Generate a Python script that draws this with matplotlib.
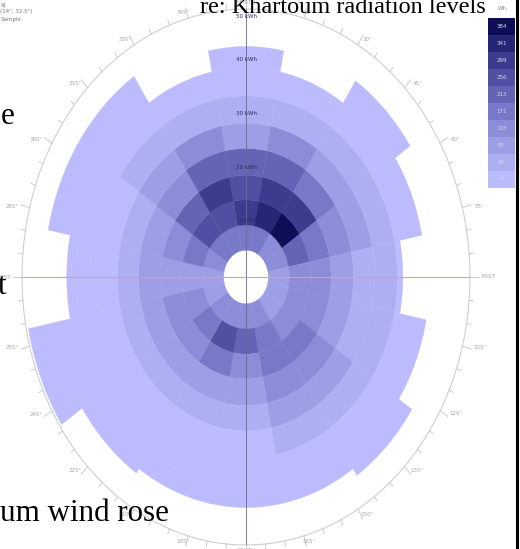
import numpy as np
import matplotlib
matplotlib.use("Agg")
import matplotlib.pyplot as plt

# sector centres, degrees clockwise from north
directions = np.arange(0, 360, 22.5)
# how far each sector reaches (kWh)
outer_reach = [43, 39, 44, 40, 35, 41, 44.5, 43, 43, 43, 44, 49.5, 40, 45, 45, 39]
# radial band edges (kWh), the last band runs out to outer_reach
band_edges = [5, 9.7, 14.4, 19, 24, 28.7, 33.8, 39]
# colour level of each cell, inner band first
cell_level = [
    [4, 7, 6, 5, 2, 1, 0, 0],   # N
    [4, 8, 7, 5, 3, 1, 0, 0],
    [3, 9, 7, 4, 2, 1, 0, 0],
    [3, 5, 4, 3, 2, 1, 0, 0],
    [2, 3, 3, 2, 1, 1, 0, 0],   # E
    [2, 3, 3, 2, 1, 1, 0, 0],
    [2, 3, 4, 3, 2, 1, 0, 0],
    [3, 4, 4, 3, 2, 1, 0, 0],
    [3, 5, 3, 2, 1, 0, 0, 0],   # S
    [3, 6, 4, 2, 1, 0, 0, 0],
    [3, 4, 3, 2, 1, 0, 0, 0],
    [2, 3, 3, 2, 1, 0, 0, 0],
    [2, 2, 2, 2, 1, 0, 0, 0],   # W
    [3, 4, 3, 2, 1, 0, 0, 0],
    [4, 6, 5, 3, 2, 1, 0, 0],
    [4, 6, 7, 5, 3, 1, 0, 0],
]
level_colors = ['#bbbbfd', '#aeaef2', '#9e9ee6', '#8c8cd8', '#7878c8',
                '#6464b6', '#5050a2', '#3c3c8e', '#262676', '#0e0e58']
legend_labels = ['0', '43', '85', '128', '171', '213', '256', '299', '341', '384']
ring_labels = [10, 20, 30, 40, 50]
compass = {0: 'NORTH', 90: 'EAST', 180: 'SOUTH', 270: 'WEST'}

W, H = 520, 549
cx, cy, rx, ry = 246, 277, 224, 268   # centre and half axes of the scale ring, px

fig = plt.figure(figsize=(W / 100, H / 100), dpi=100)
ax = fig.add_axes([(cx - rx) / W, (H - cy - ry) / H, 2 * rx / W, 2 * ry / H],
                  projection='polar')
ax.set_aspect('auto')   # stretched into an ellipse like the original
ax.set_theta_zero_location('N')
ax.set_theta_direction(-1)

width = np.deg2rad(22.5)
for i, d in enumerate(directions):
    for b, lev in enumerate(cell_level[i]):
        lo = band_edges[b]
        hi = band_edges[b + 1] if b + 1 < len(band_edges) else outer_reach[i]
        hi = min(hi, outer_reach[i])
        if hi <= lo:
            continue
        ax.bar(np.deg2rad(d), hi - lo, width=width, bottom=lo,
               color=level_colors[lev], edgecolor=level_colors[lev], linewidth=0.3)

ax.set_ylim(0, 50)
ax.grid(False)
ax.set_xticks([])
ax.set_yticks([])
ax.spines['polar'].set_color('#cfcfcf')
ax.spines['polar'].set_linewidth(0.8)

# compass tick marks round the ring
for a in range(0, 360, 5):
    ln = 2.0 if a % 15 == 0 else 1.0
    ax.plot([np.deg2rad(a)] * 2, [50, 50 + ln], color='#c4c4c4', lw=0.6, clip_on=False)

for a in range(0, 360, 15):
    t = np.deg2rad(a)
    ax.text(0.5 + 242 / 448 * np.sin(t), 0.5 + 274 / 536 * np.cos(t),
            compass.get(a, f'{a}°'), transform=ax.transAxes,
            ha='center', va='center', fontsize=4, color='#a8a8a8')

# cross hairs
ax.plot([0, 0], [0, 50], color='#6a6a8a', lw=0.6, zorder=4)
ax.plot([np.pi, np.pi], [0, 50], color='#6a6a8a', lw=0.6, zorder=4)
ax.plot([np.pi / 2] * 2, [0, 50], color='#b8b0a0', lw=0.8, zorder=4)
ax.plot([3 * np.pi / 2] * 2, [0, 50], color='#b8b0a0', lw=0.8, zorder=4)

for v in ring_labels:
    ax.text(0, min(v + 0.5, 48.6), f'{v} kWh', ha='center', va='center',
            fontsize=4, color='#2a2a5a', zorder=5)

# colour key on the right edge
cax = fig.add_axes([488 / W, 1 - 188 / H, 27 / W, 170 / H])
cax.barh(range(len(level_colors)), 1, height=1, color=level_colors)
cax.set_xlim(0, 1)
cax.set_ylim(-0.5, len(level_colors) - 0.5)
cax.axis('off')
for k, lab in enumerate(legend_labels):
    cax.text(0.5, k, lab, ha='center', va='center', fontsize=4, color='#d4d4ee')
fig.text(502 / W, 1 - 9 / H, 'Wh', ha='center', va='center', fontsize=4, color='#888888')

# dark frame edge on the right
fig.add_artist(plt.Line2D([517 / W, 517 / W], [0, 1], color='black', lw=2.2))

# small location text top left
fig.text(1 / W, 1 - 5 / H, '9)', fontsize=4, color='#777777', va='center')
fig.text(32 / W, 1 - 12 / H, '(14°, 32.5°)', fontsize=4, color='#777777', va='center', ha='right')
fig.text(1 / W, 1 - 19 / H, 'Sample', fontsize=4, color='#777777', va='center')

# document text that overlaps the picture
serif = ['Liberation Serif', 'DejaVu Serif']
fig.text(200 / W, 1 - 13 / H, 're: Khartoum radiation levels', family=serif,
         fontsize=17.5, va='baseline')
fig.text(1 / W, 1 - 124 / H, 'e', family=serif, fontsize=22.3, va='baseline')
fig.text(-2 / W, 1 - 294 / H, 't', family=serif, fontsize=22.3, va='baseline')
fig.text(0, 1 - 521 / H, 'um wind rose', family=serif, fontsize=22.3, va='baseline')

fig.savefig('out.png', dpi=100)
